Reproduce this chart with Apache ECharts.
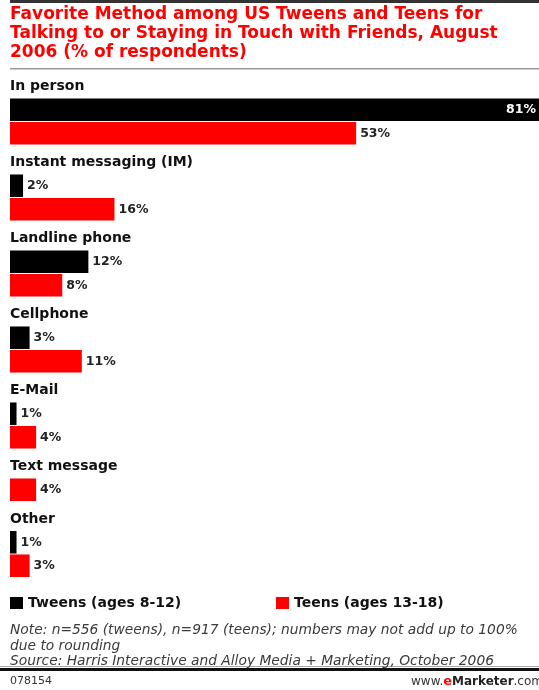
<!DOCTYPE html>
<html>
<head>
<meta charset="utf-8">
<script src="https://cdn.jsdelivr.net/npm/echarts@6/dist/echarts.min.js"></script>
<style>
html,body{margin:0;padding:0;background:#fff;}
#chart{width:539px;height:690px;}
</style>
</head>
<body>
<div id="chart"></div>
<script>
const categories = ['In person','Instant messaging (IM)','Landline phone','Cellphone','E-Mail','Text message','Other'];
const tweens = [81, 2, 12, 3, 1, null, 1];
const teens = [53, 16, 8, 11, 4, 4, 3];
const seriesNames = ['Tweens (ages 8-12)', 'Teens (ages 13-18)'];
const titleLines = ['Favorite Method among US Tweens and Teens for', 'Talking to or Staying in Touch with Friends, August', '2006 (% of respondents)'];
const noteLines = ['Note: n=556 (tweens), n=917 (teens); numbers may not add up to 100%', 'due to rounding', 'Source: Harris Interactive and Alloy Media + Marketing, October 2006'];

const RED = '#ff0000', BLACK = '#000000';
const ROW = 23.5, GAP = 29, LEFT = 10;
const grids = [], xAxes = [], yAxes = [], series = [], graphics = [];

const labelStyle = (v) => v >= 70
  ? {show: true, position: 'insideRight', distance: 3, formatter: '{c}%', color: '#fff', fontWeight: 'bold', fontSize: 12.5, fontFamily: 'DejaVu Sans'}
  : {show: true, position: 'right', distance: 4, formatter: '{c}%', color: '#222', fontWeight: 'bold', fontSize: 12.5, fontFamily: 'DejaVu Sans'};

let barTop = 98;
categories.forEach((cat, i) => {
  const rows = [];
  if (tweens[i] != null) rows.push('t');
  if (teens[i] != null) rows.push('n');
  const h = rows.length * ROW;
  grids.push({left: LEFT, right: 0, top: barTop, height: h});
  xAxes.push({gridIndex: i, type: 'value', min: 0, max: 81, show: false});
  yAxes.push({gridIndex: i, type: 'category', data: rows, inverse: true, show: false});
  const tData = rows.map(r => r === 't' ? {value: tweens[i], label: labelStyle(tweens[i])} : '-');
  const nData = rows.map(r => r === 'n' ? {value: teens[i], label: labelStyle(teens[i])} : '-');
  series.push({name: seriesNames[0], type: 'bar', xAxisIndex: i, yAxisIndex: i, data: tData,
    itemStyle: {color: BLACK}, barGap: '-100%', barCategoryGap: '4%', silent: true});
  series.push({name: seriesNames[1], type: 'bar', xAxisIndex: i, yAxisIndex: i, data: nData,
    itemStyle: {color: RED}, barGap: '-100%', barCategoryGap: '4%', silent: true});
  graphics.push({type: 'text', left: LEFT, top: barTop - 18.5,
    style: {text: cat, fill: '#111', font: 'bold 14px "DejaVu Sans"'}});
  barTop += h + GAP;
});

// frame lines
graphics.push({type: 'rect', shape: {x: LEFT, y: 0, width: 539, height: 3}, style: {fill: '#333'}});
graphics.push({type: 'rect', shape: {x: LEFT, y: 68, width: 539, height: 1.5}, style: {fill: '#999'}});
graphics.push({type: 'rect', shape: {x: 0, y: 668, width: 539, height: 3}, style: {fill: '#111'}});
graphics.push({type: 'rect', shape: {x: 0, y: 666, width: 539, height: 1}, style: {fill: '#aaa'}});

titleLines.forEach((t, k) => graphics.push({type: 'text', left: LEFT, top: 6 + k * 19,
  style: {text: t, fill: RED, font: 'bold 17px "DejaVu Sans"'}}));
noteLines.forEach((t, k) => graphics.push({type: 'text', left: LEFT, top: 623.5 + k * 15.5,
  style: {text: t, fill: '#3a3a3a', font: 'italic 13.8px "DejaVu Sans"'}}));
graphics.push({type: 'text', left: LEFT, top: 676, style: {text: '078154', fill: '#333', font: '11px "DejaVu Sans"'}});
graphics.push({type: 'text', right: -4, top: 675, style: {
  text: '{a|www.}{e|e}{b|Marketer}{a|.com}',
  rich: {a: {fill: '#333', font: '12px "DejaVu Sans"'}, e: {fill: RED, font: 'bold 13px "DejaVu Sans"'}, b: {fill: '#222', font: 'bold 12px "DejaVu Sans"'}}}});

const legendText = {color: '#111', fontWeight: 'bold', fontSize: 14, fontFamily: 'DejaVu Sans'};
const option = {
  backgroundColor: '#fff',
  animation: false,
  grid: grids, xAxis: xAxes, yAxis: yAxes, series: series,
  legend: [
    {data: [seriesNames[0]], left: 10, top: 596, padding: 0, icon: 'rect', itemWidth: 13, itemHeight: 12, itemGap: 4, textStyle: legendText, selectedMode: false},
    {data: [seriesNames[1]], left: 276, top: 596, padding: 0, icon: 'rect', itemWidth: 13, itemHeight: 12, itemGap: 4, textStyle: legendText, selectedMode: false}
  ],
  graphic: graphics
};
const chart = echarts.init(document.getElementById('chart'), null, {renderer: 'canvas'});
chart.setOption(option);
</script>
</body>
</html>
